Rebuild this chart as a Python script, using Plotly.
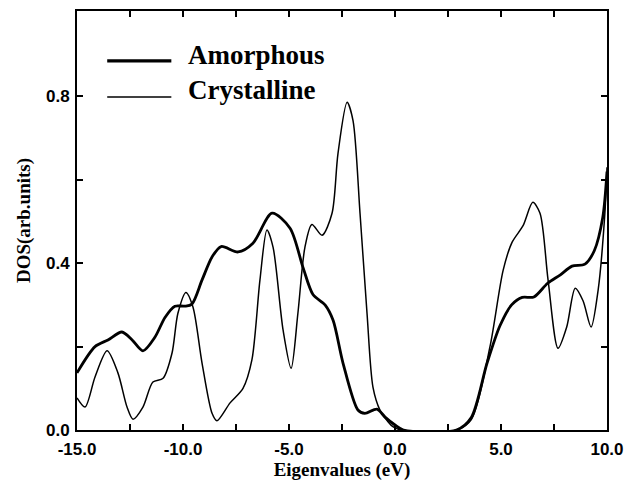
import plotly.graph_objects as go

# Amorphous DOS (thick line)
amor_x = [-15.0, -14.15, -13.54, -12.88, -12.4, -11.89, -11.32, -10.85, -10.38, -9.9, -9.58,
          -9.1, -8.63, -8.2, -7.4, -6.7, -5.8, -4.95, -4.34, -3.87, -3.3, -2.92, -2.45,
          -1.75, -1.42, -0.85, -0.47, 0.0, 0.4, 2.9, 3.6, 4.34, 4.95, 5.5, 6.0, 6.55,
          7.2, 7.8, 8.35, 8.96, 9.4, 9.8, 10.0]
amor_y = [0.137, 0.20, 0.216, 0.235, 0.216, 0.19, 0.223, 0.27, 0.297, 0.297, 0.302,
          0.36, 0.415, 0.44, 0.427, 0.448, 0.52, 0.484, 0.39, 0.325, 0.30, 0.263, 0.16,
          0.048, 0.04, 0.05, 0.031, 0.012, 0.0, 0.0, 0.03, 0.16, 0.25, 0.30, 0.318, 0.319,
          0.352, 0.372, 0.393, 0.398, 0.43, 0.51, 0.62]

# Crystalline DOS (thin line)
crys_x = [-15.0, -14.62, -14.15, -13.58, -13.07, -12.64, -12.36, -11.89, -11.42, -10.94,
          -10.52, -10.24, -9.86, -9.53, -9.1, -8.63, -8.4, -7.78, -7.17, -6.75, -6.37,
          -6.04, -5.75, -5.28, -4.9, -4.58, -4.25, -3.92, -3.44, -2.97, -2.69, -2.26,
          -1.98, -1.65, -1.32, -1.04, -0.71, -0.33, -0.1, 0.3, 2.9, 3.6, 4.48, 5.1,
          5.52, 6.04, 6.5, 6.84, 7.22, 7.69, 8.1, 8.5, 8.87, 9.25, 9.58, 9.9, 10.0]
crys_y = [0.077, 0.055, 0.127, 0.19, 0.137, 0.055, 0.026, 0.055, 0.115, 0.124,
          0.184, 0.28, 0.33, 0.295, 0.16, 0.04, 0.022, 0.065, 0.10, 0.168, 0.36,
          0.48, 0.438, 0.24, 0.148, 0.28, 0.438, 0.493, 0.467, 0.52, 0.663, 0.786,
          0.742, 0.52, 0.28, 0.103, 0.048, 0.02, 0.008, 0.0, 0.0, 0.025, 0.20, 0.383,
          0.45, 0.49, 0.546, 0.52, 0.36, 0.196, 0.247, 0.34, 0.31, 0.247, 0.335, 0.52, 0.63]

x_ticks = [-15.0, -12.5, -10.0, -7.5, -5.0, -2.5, 0.0, 2.5, 5.0, 7.5, 10.0]
x_labels = ["-15.0", "", "-10.0", "", "-5.0", "", "0.0", "", "5.0", "", "10.0"]
y_ticks = [0.0, 0.2, 0.4, 0.6, 0.8]
y_labels = ["0.0", "", "0.4", "", "0.8"]

legend_names = ["Amorphous", "Crystalline"]

fig = go.Figure()
fig.add_trace(go.Scatter(x=amor_x, y=amor_y, mode="lines", name=legend_names[0],
                         line=dict(color="black", width=2.8, shape="spline", smoothing=0.8),
                         showlegend=False))
fig.add_trace(go.Scatter(x=crys_x, y=crys_y, mode="lines", name=legend_names[1],
                         line=dict(color="black", width=1.5, shape="spline", smoothing=0.8),
                         showlegend=False))

# custom legend (paper coordinates)
leg_line_y = [0.881, 0.795]
leg_text_y = [0.895, 0.812]
leg_widths = [3.2, 1.5]
for name, ly, ty, w in zip(legend_names, leg_line_y, leg_text_y, leg_widths):
    fig.add_shape(type="line", xref="paper", yref="paper", x0=0.057, x1=0.178, y0=ly, y1=ly,
                  line=dict(color="black", width=w))
    fig.add_annotation(text=name, xref="paper", yref="paper", x=0.205, y=ty,
                       xanchor="left", yanchor="middle", showarrow=False,
                       font=dict(family="Liberation Serif", size=27, color="black", weight="bold"))

axis_common = dict(showline=True, linecolor="black", linewidth=2, mirror="allticks",
                   ticks="inside", ticklen=6, tickwidth=1.5, tickcolor="black",
                   showgrid=False, zeroline=False, automargin=False,
                   tickfont=dict(family="Liberation Sans", size=17, color="black", weight="bold"))

fig.update_xaxes(range=[-15, 10], tickvals=x_ticks, ticktext=x_labels, ticklabelstandoff=3,
                 title=dict(text="Eigenvalues (eV)", standoff=4,
                            font=dict(family="Liberation Serif", size=19, color="black", weight="bold")),
                 **axis_common)
fig.update_yaxes(range=[0, 1.005], tickvals=y_ticks, ticktext=y_labels, ticklabelstandoff=2,
                 title=dict(text="DOS(arb.units)", standoff=10,
                            font=dict(family="Liberation Serif", size=19, color="black", weight="bold")),
                 **axis_common)

fig.update_layout(width=625, height=482, margin=dict(l=77, r=18, t=11, b=52),
                  paper_bgcolor="white", plot_bgcolor="white")

fig.write_html("out.html")
